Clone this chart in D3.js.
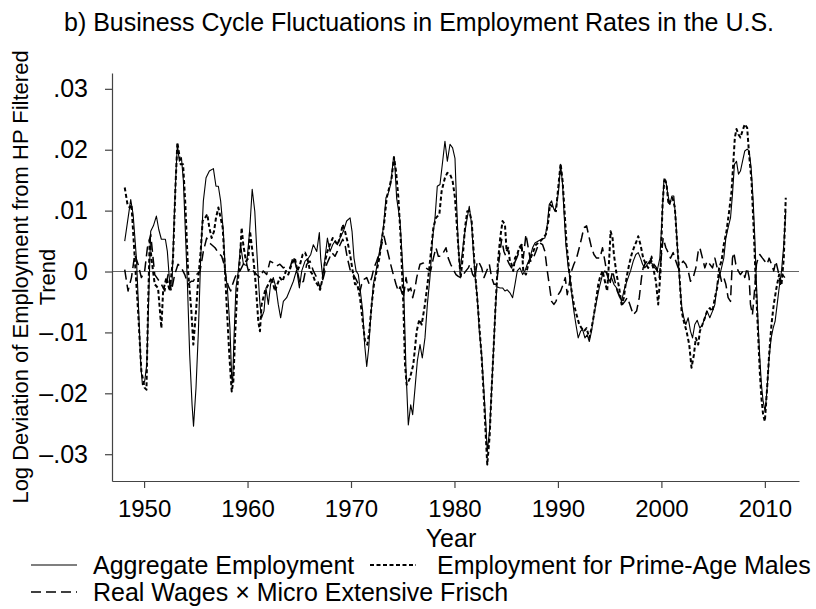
<!DOCTYPE html>
<html>
<head>
<meta charset="utf-8">
<script src="https://cdn.jsdelivr.net/npm/d3@7/dist/d3.min.js"></script>
<style>
  body { margin: 0; background: #fff; }
  svg { display: block; font-family: "Liberation Sans", Arial, sans-serif; }
</style>
</head>
<body>
<svg width="816" height="609"></svg>
<script>
// series: [year, log deviation from HP trend]
var aggregate = [
  [1948.13,.0050],[1948.71,.0118],[1948.94,.0094],[1949.26,.0022],[1949.48,-.0065],[1949.68,-.0153],[1949.84,-.0186],[1950.06,-.0180],[1950.26,-.0153],[1950.45,-.0043],[1950.64,.0066],[1950.90,.0075],[1951.19,.0091],[1951.42,.0069],[1951.67,.0053],[1952.06,.0053],[1952.25,.0033],[1952.51,-.0027],[1952.70,-.0021],[1952.90,.0083],
  [1953.09,.0165],[1953.22,.0209],[1953.41,.0181],[1953.61,.0187],[1953.80,.0149],[1953.99,.0066],[1954.19,-.0021],[1954.41,-.0137],[1954.64,-.0219],[1954.78,-.0254],[1955.02,-.0191],[1955.25,-.0098],[1955.47,.0022],[1955.73,.0116],[1955.99,.0154],[1956.31,.0165],[1956.70,.0169],[1956.95,.0140],[1957.18,.0140],[1957.40,.0116],
  [1957.66,.0066],[1957.85,.0001],[1958.05,-.0027],[1958.30,-.0093],[1958.47,-.0175],[1958.56,-.0183],[1958.69,-.0109],[1958.88,-.0027],[1959.11,.0001],[1959.33,.0044],[1959.60,.0012],[1959.90,.0010],[1960.20,.0066],[1960.45,.0135],[1960.70,.0099],[1960.88,.0039],[1961.04,-.0010],[1961.20,-.0054],[1961.36,-.0076],[1961.59,-.0065],
  [1961.78,-.0027],[1962.01,-.0054],[1962.23,-.0021],[1962.49,-.0010],[1962.75,-.0027],[1962.97,-.0054],[1963.20,-.0076],[1963.46,-.0049],[1963.78,-.0043],[1964.10,-.0030],[1964.43,-.0016],[1964.75,.0003],[1965.01,-.0027],[1965.24,.0001],[1965.56,.0017],[1965.88,.0022],[1966.11,.0028],[1966.36,.0044],[1966.69,.0033],[1966.94,.0064],
  [1967.07,.0022],[1967.27,-.0010],[1967.49,.0022],[1967.72,.0055],[1967.97,.0033],[1968.23,.0044],[1968.46,.0050],[1968.68,.0044],[1968.94,.0055],[1969.26,.0066],[1969.58,.0083],[1969.91,.0088],[1970.10,.0066],[1970.29,.0022],[1970.49,.0001],[1970.71,-.0005],[1970.87,-.0027],[1971.13,-.0065],[1971.32,-.0120],[1971.52,-.0156],
  [1971.71,-.0126],[1971.90,-.0076],[1972.16,-.0021],[1972.42,.0001],[1972.64,.0022],[1972.87,.0044],[1973.13,.0072],[1973.38,.0121],[1973.61,.0129],[1973.83,.0143],[1974.09,.0184],[1974.20,.0186],[1974.41,.0121],[1974.74,.0083],[1975.06,-.0010],[1975.32,-.0164],[1975.54,-.0252],[1975.77,-.0219],[1975.96,-.0235],[1976.19,-.0191],
  [1976.41,-.0147],[1976.67,-.0120],[1976.89,-.0142],[1977.15,-.0109],[1977.38,-.0054],[1977.63,-.0010],[1977.89,.0055],[1978.12,.0088],[1978.34,.0140],[1978.60,.0143],[1978.86,.0181],[1979.08,.0214],[1979.31,.0181],[1979.57,.0209],[1979.82,.0203],[1980.05,.0186],[1980.21,.0110],[1980.37,.0044],[1980.53,.0001],[1980.69,.0022],
  [1980.92,.0055],[1981.18,.0083],[1981.43,.0107],[1981.66,.0077],[1981.82,.0033],[1982.01,-.0010],[1982.21,-.0043],[1982.40,-.0098],[1982.63,-.0137],[1982.85,-.0197],[1983.04,-.0252],[1983.17,-.0296],[1983.40,-.0260],[1983.60,-.0190],[1983.80,-.0120],[1983.95,-.0065],[1984.10,-.0025],[1984.40,-.0027],[1984.65,-.0027],[1984.88,-.0032],
  [1985.10,-.0030],[1985.36,-.0035],[1985.62,-.0043],[1985.85,-.0021],[1986.07,.0001],[1986.33,.0006],[1986.59,-.0005],[1986.81,.0001],[1987.04,.0012],[1987.29,.0022],[1987.55,.0039],[1987.78,.0047],[1988.10,.0050],[1988.42,.0053],[1988.74,.0055],[1988.97,.0077],[1989.16,.0110],[1989.39,.0116],[1989.55,.0105],[1989.71,.0099],
  [1989.87,.0110],[1990.06,.0132],[1990.26,.0176],[1990.45,.0143],[1990.58,.0099],[1990.77,.0044],[1991.00,.0006],[1991.16,-.0010],[1991.35,-.0038],[1991.54,-.0065],[1991.74,-.0087],[1991.96,-.0109],[1992.19,-.0098],[1992.38,-.0095],[1992.61,-.0109],[1992.83,-.0104],[1993.03,-.0115],[1993.25,-.0098],[1993.48,-.0071],[1993.73,-.0049],
  [1993.99,-.0027],[1994.31,-.0005],[1994.54,.0001],[1994.76,-.0005],[1994.96,-.0016],[1995.18,-.0010],[1995.41,-.0021],[1995.67,-.0027],[1995.92,-.0038],[1996.15,-.0049],[1996.37,-.0032],[1996.57,-.0021],[1996.79,-.0010],[1997.02,.0001],[1997.28,.0017],[1997.53,.0028],[1997.76,.0031],[1997.98,.0022],[1998.18,.0012],[1998.40,.0006],
  [1998.63,.0012],[1998.89,.0017],[1999.14,.0012],[1999.37,.0006],[1999.59,.0001],[1999.85,.0022],[2000.05,.0083],[2000.24,.0149],[2000.43,.0149],[2000.62,.0127],[2000.82,.0110],[2001.01,.0124],[2001.20,.0124],[2001.40,.0083],[2001.59,.0028],[2001.78,-.0021],[2001.98,-.0060],[2002.17,-.0076],[2002.36,-.0087],[2002.59,-.0076],
  [2002.81,-.0098],[2003.01,-.0109],[2003.23,-.0087],[2003.46,-.0080],[2003.72,-.0093],[2003.97,-.0087],[2004.20,-.0076],[2004.42,-.0065],[2004.68,-.0076],[2004.94,-.0065],[2005.17,-.0054],[2005.39,-.0021],[2005.58,-.0010],[2005.81,.0006],[2006.03,.0022],[2006.23,.0055],[2006.45,.0072],[2006.68,.0088],[2006.87,.0127],[2007.06,.0176],
  [2007.26,.0181],[2007.45,.0160],[2007.64,.0165],[2007.84,.0181],[2008.06,.0198],[2008.29,.0201],[2008.48,.0198],[2008.67,.0171],[2008.87,.0116],[2009.03,.0055],[2009.19,-.0021],[2009.35,-.0087],[2009.51,-.0142],[2009.67,-.0186],[2009.83,-.0213],[2010.03,-.0230],[2010.22,-.0191],[2010.41,-.0142],[2010.61,-.0109],[2010.80,-.0093],
  [2010.99,-.0082],[2011.19,-.0054],[2011.38,-.0027],[2011.61,.0001],[2011.83,.0044],[2012.02,.0099]
]

var primeMales = [
  [1948.13,.0138],[1948.40,.0110],[1948.62,.0105],[1948.78,.0110],[1949.10,.0022],[1949.42,-.0065],[1949.74,-.0164],[1950.06,-.0191],[1950.23,-.0194],[1950.39,-.0054],[1950.55,.0055],[1950.71,.0022],[1951.03,-.0021],[1951.35,-.0027],[1951.67,-.0093],[1951.84,-.0032],[1952.16,-.0010],[1952.48,-.0032],[1952.80,.0022],[1953.03,.0138],
  [1953.22,.0212],[1953.54,.0176],[1953.77,.0176],[1953.99,.0110],[1954.25,.0001],[1954.57,-.0065],[1954.76,-.0120],[1955.02,-.0065],[1955.25,-.0010],[1955.47,.0033],[1955.66,.0083],[1955.89,.0088],[1956.11,.0094],[1956.31,.0072],[1956.53,.0055],[1956.76,.0066],[1956.95,.0088],[1957.18,.0105],[1957.40,.0088],[1957.60,.0072],
  [1957.79,.0012],[1957.98,-.0054],[1958.24,-.0137],[1958.47,-.0197],[1958.63,-.0180],[1958.79,-.0109],[1959.01,-.0027],[1959.27,.0022],[1959.43,.0072],[1959.59,.0044],[1959.85,.0017],[1960.08,.0022],[1960.24,.0066],[1960.43,.0039],[1960.62,.0012],[1960.82,-.0027],[1961.04,-.0082],[1961.20,-.0098],[1961.36,-.0054],[1961.69,-.0032],
  [1962.01,-.0021],[1962.33,-.0010],[1962.65,-.0032],[1962.88,-.0021],[1963.13,-.0010],[1963.39,-.0016],[1963.71,.0001],[1963.94,-.0005],[1964.26,.0012],[1964.58,.0022],[1964.82,.0001],[1965.08,.0012],[1965.33,.0028],[1965.56,.0031],[1965.78,.0022],[1966.04,.0001],[1966.30,-.0005],[1966.53,-.0016],[1966.75,-.0021],[1967.01,-.0030],
  [1967.27,-.0010],[1967.49,.0017],[1967.72,.0033],[1967.97,.0044],[1968.23,.0055],[1968.46,.0050],[1968.68,.0044],[1968.94,.0055],[1969.20,.0077],[1969.42,.0066],[1969.65,.0050],[1969.91,.0028],[1970.16,.0001],[1970.39,-.0021],[1970.61,-.0021],[1970.87,-.0043],[1971.13,-.0082],[1971.36,-.0115],[1971.58,-.0120],[1971.77,-.0098],
  [1972.00,-.0054],[1972.22,-.0021],[1972.48,.0001],[1972.74,.0022],[1972.96,.0050],[1973.19,.0077],[1973.45,.0121],[1973.70,.0138],[1973.93,.0154],[1974.15,.0188],[1974.35,.0165],[1974.58,.0121],[1974.80,.0055],[1975.06,-.0054],[1975.22,-.0153],[1975.38,-.0186],[1975.70,-.0175],[1976.02,-.0153],[1976.35,-.0098],[1976.60,-.0079],
  [1976.83,-.0087],[1977.15,-.0054],[1977.47,-.0010],[1977.80,.0044],[1977.96,.0072],[1978.21,.0088],[1978.54,.0094],[1978.76,.0132],[1979.08,.0154],[1979.31,.0162],[1979.57,.0160],[1979.82,.0149],[1980.05,.0121],[1980.27,.0066],[1980.47,.0017],[1980.60,-.0010],[1980.79,.0022],[1981.02,.0072],[1981.24,.0099],[1981.43,.0099],
  [1981.66,.0083],[1981.98,.0001],[1982.30,-.0065],[1982.63,-.0142],[1982.88,-.0219],[1983.04,-.0274],[1983.17,-.0317],[1983.40,-.0270],[1983.60,-.0190],[1983.80,-.0120],[1984.00,-.0045],[1984.20,.0015],[1984.42,.0055],[1984.65,.0083],[1984.88,.0077],[1985.04,.0033],[1985.20,.0039],[1985.36,.0017],[1985.52,.0012],[1985.68,.0001],
  [1985.85,.0022],[1986.07,.0028],[1986.26,.0039],[1986.49,.0044],[1986.65,.0001],[1986.91,-.0005],[1987.13,.0012],[1987.36,.0022],[1987.62,.0033],[1987.87,.0044],[1988.10,.0047],[1988.32,.0050],[1988.58,.0055],[1988.84,.0061],[1989.07,.0083],[1989.23,.0110],[1989.55,.0105],[1989.81,.0099],[1990.03,.0138],[1990.26,.0177],
  [1990.45,.0149],[1990.64,.0099],[1990.84,.0044],[1991.09,.0001],[1991.32,-.0032],[1991.54,-.0054],[1991.80,-.0071],[1992.06,-.0087],[1992.29,-.0093],[1992.51,-.0098],[1992.77,-.0093],[1993.03,-.0109],[1993.25,-.0093],[1993.48,-.0071],[1993.67,-.0049],[1993.90,-.0021],[1994.06,-.0010],[1994.31,.0001],[1994.54,-.0016],[1994.76,-.0032],
  [1994.96,.0022],[1995.09,.0066],[1995.28,.0055],[1995.41,.0028],[1995.67,-.0005],[1995.92,-.0027],[1996.15,-.0054],[1996.37,-.0043],[1996.63,-.0010],[1996.89,.0012],[1997.12,.0028],[1997.34,.0039],[1997.60,.0050],[1997.76,.0058],[1997.98,.0044],[1998.24,.0022],[1998.50,.0012],[1998.73,.0006],[1998.95,.0022],[1999.21,.0006],
  [1999.47,-.0016],[1999.69,-.0054],[1999.92,.0001],[2000.11,.0110],[2000.30,.0154],[2000.50,.0143],[2000.69,.0110],[2000.88,.0116],[2001.08,.0121],[2001.30,.0105],[2001.53,.0044],[2001.72,.0001],[2001.95,-.0065],[2002.17,-.0082],[2002.43,-.0098],[2002.69,-.0120],[2002.91,-.0158],[2003.14,-.0137],[2003.33,-.0109],[2003.56,-.0120],
  [2003.72,-.0098],[2003.97,-.0087],[2004.20,-.0076],[2004.42,-.0065],[2004.68,-.0060],[2004.94,-.0065],[2005.17,-.0043],[2005.39,-.0027],[2005.58,.0006],[2005.81,.0017],[2006.03,.0044],[2006.29,.0066],[2006.55,.0099],[2006.78,.0132],[2006.94,.0176],[2007.10,.0220],[2007.26,.0234],[2007.45,.0225],[2007.64,.0220],[2007.84,.0231],
  [2008.06,.0242],[2008.29,.0236],[2008.48,.0192],[2008.71,.0149],[2008.93,.0066],[2009.13,-.0021],[2009.35,-.0104],[2009.51,-.0164],[2009.67,-.0208],[2009.83,-.0235],[2010.00,-.0246],[2010.22,-.0191],[2010.41,-.0137],[2010.64,-.0087],[2010.86,-.0054],[2011.12,-.0027],[2011.38,-.0005],[2011.61,-.0021],[2011.83,.0022],[2012.02,.0121]
]

var wagesFrisch = [
  [1948.13,.0003],[1948.45,-.0032],[1948.78,-.0010],[1949.10,.0028],[1949.42,.0012],[1949.74,-.0010],[1950.06,.0001],[1950.32,.0039],[1950.64,.0061],[1951.03,-.0005],[1951.35,-.0013],[1951.67,-.0021],[1952.00,-.0032],[1952.32,-.0005],[1952.64,-.0032],[1952.96,-.0005],[1953.28,.0012],[1953.61,.0006],[1953.93,-.0005],[1954.25,-.0021],
  [1954.57,-.0016],[1954.76,-.0016],[1955.08,-.0005],[1955.41,.0001],[1955.73,.0033],[1956.05,.0055],[1956.31,.0047],[1956.53,.0044],[1956.86,.0039],[1957.18,.0031],[1957.50,.0025],[1957.73,.0012],[1957.92,-.0010],[1958.14,-.0024],[1958.37,-.0032],[1958.56,-.0021],[1958.79,-.0010],[1959.01,-.0002],[1959.27,.0001],[1959.59,.0012],
  [1959.85,.0017],[1960.08,.0001],[1960.30,.0006],[1960.56,.0001],[1960.88,-.0005],[1961.20,-.0010],[1961.52,.0001],[1961.85,-.0005],[1962.17,.0017],[1962.49,.0014],[1962.81,.0009],[1963.13,.0012],[1963.46,.0006],[1963.78,.0009],[1964.10,.0006],[1964.43,.0025],[1964.75,.0006],[1965.08,-.0021],[1965.40,-.0016],[1965.72,.0012],
  [1966.04,.0017],[1966.36,.0001],[1966.69,-.0010],[1967.01,-.0027],[1967.33,-.0010],[1967.65,.0012],[1967.91,.0022],[1968.16,.0031],[1968.45,.0025],[1968.68,.0033],[1968.94,.0044],[1969.20,.0053],[1969.42,.0044],[1969.65,.0022],[1969.91,.0003],[1970.23,-.0005],[1970.49,-.0013],[1970.71,-.0021],[1970.87,-.0032],[1971.03,-.0021],
  [1971.26,-.0013],[1971.52,-.0010],[1971.77,-.0021],[1972.00,-.0010],[1972.22,.0006],[1972.48,.0017],[1972.74,.0031],[1972.96,.0044],[1973.19,.0058],[1973.38,.0044],[1973.61,.0028],[1973.83,.0012],[1974.09,-.0005],[1974.35,-.0021],[1974.57,-.0032],[1974.74,-.0025],[1975.06,-.0043],[1975.32,-.0010],[1975.54,-.0032],[1975.77,-.0027],
  [1975.96,-.0043],[1976.19,-.0027],[1976.35,-.0010],[1976.67,.0012],[1976.99,.0014],[1977.25,.0006],[1977.47,.0003],[1977.70,.0001],[1977.96,.0022],[1978.21,.0039],[1978.44,.0025],[1978.66,.0025],[1978.92,.0031],[1979.18,.0039],[1979.40,.0022],[1979.63,.0012],[1979.89,.0003],[1980.15,-.0005],[1980.37,-.0008],[1980.60,-.0010],
  [1980.85,-.0005],[1981.11,.0001],[1981.34,.0006],[1981.50,.0012],[1981.76,-.0005],[1981.98,-.0010],[1982.21,.0017],[1982.40,.0014],[1982.63,.0006],[1982.85,-.0010],[1983.11,.0001],[1983.37,.0012],[1983.59,-.0010],[1983.82,-.0021],[1984.07,-.0021],[1984.33,.0022],[1984.56,.0053],[1984.78,.0033],[1985.04,.0022],[1985.30,.0012],
  [1985.52,.0006],[1985.75,.0012],[1986.01,.0022],[1986.26,.0033],[1986.49,.0044],[1986.65,.0022],[1986.91,.0061],[1987.13,.0039],[1987.36,.0017],[1987.62,.0022],[1987.87,.0033],[1988.10,.0044],[1988.26,.0047],[1988.52,.0044],[1988.74,.0033],[1988.97,.0001],[1989.16,-.0021],[1989.39,-.0049],[1989.61,-.0054],[1989.81,-.0049],
  [1990.03,-.0038],[1990.26,-.0032],[1990.51,-.0021],[1990.71,-.0010],[1990.90,-.0038],[1991.09,-.0021],[1991.32,.0001],[1991.54,.0012],[1991.80,.0022],[1992.06,.0039],[1992.29,.0055],[1992.51,.0072],[1992.77,.0075],[1993.03,.0055],[1993.25,.0039],[1993.48,.0028],[1993.73,.0022],[1994.06,.0022],[1994.31,.0039],[1994.54,.0017],
  [1994.76,-.0005],[1995.02,-.0021],[1995.28,.0001],[1995.51,-.0016],[1995.73,-.0032],[1995.99,-.0043],[1996.25,-.0054],[1996.47,-.0049],[1996.70,-.0043],[1996.95,-.0054],[1997.28,-.0071],[1997.60,-.0065],[1997.86,-.0043],[1998.08,-.0010],[1998.24,.0006],[1998.40,.0012],[1998.63,.0017],[1998.89,.0012],[1999.05,.0025],[1999.27,.0012],
  [1999.53,.0006],[1999.79,-.0010],[2000.01,.0028],[2000.17,.0055],[2000.43,.0039],[2000.66,.0031],[2000.88,.0022],[2001.14,.0031],[2001.40,.0017],[2001.62,.0006],[2001.85,.0012],[2002.11,.0017],[2002.36,.0012],[2002.59,.0001],[2002.81,-.0016],[2003.07,-.0010],[2003.33,.0006],[2003.56,.0033],[2003.72,.0039],[2003.97,.0022],
  [2004.20,.0006],[2004.42,.0017],[2004.68,.0012],[2004.94,.0006],[2005.17,.0022],[2005.39,.0006],[2005.58,.0001],[2005.81,-.0016],[2006.03,-.0010],[2006.23,-.0021],[2006.45,-.0043],[2006.68,-.0049],[2006.87,.0022],[2007.00,.0031],[2007.19,.0012],[2007.42,.0001],[2007.64,-.0005],[2007.90,.0001],[2008.06,-.0010],[2008.29,.0006],
  [2008.48,-.0010],[2008.61,-.0054],[2008.80,-.0071],[2009.00,-.0032],[2009.19,.0012],[2009.35,.0022],[2009.51,.0028],[2009.77,.0022],[2010.00,.0017],[2010.22,.0012],[2010.41,.0022],[2010.64,.0012],[2010.86,.0001],[2011.06,.0017],[2011.28,.0001],[2011.51,-.0021],[2011.70,-.0005],[2011.93,-.0010]
]

var yearTicks = [1950, 1960, 1970, 1980, 1990, 2000, 2010]
var valueTicks = [-.03, -.02, -.01, 0, .01, .02, .03]
var valueLabels = ['\u2013.03', '\u2013.02', '\u2013.01', '0', '.01', '.02', '.03']

var seriesNames = ['Aggregate Employment', 'Employment for Prime-Age Males', 'Real Wages \u00d7 Micro Extensive Frisch']

;(function (d3) {
  var svg = d3.select('svg')
  var fs = 25

  var x = d3.scaleLinear().domain([1946.9, 2013.3]).range([112, 799])
  var y = d3.scaleLinear().domain([0.0326, -0.0344]).range([73, 481])

  var styles = [
    {data: aggregate, width: 1.1, dash: null},
    {data: primeMales, width: 2, dash: '4,2.5'},
    {data: wagesFrisch, width: 1.5, dash: '10,5'}
  ]

  // zero reference line
  svg.append('line')
    .attr('x1', x.range()[0]).attr('x2', x.range()[1])
    .attr('y1', y(0)).attr('y2', y(0))
    .style('stroke', '#666')
    .style('stroke-width', 1.2)

  var ln = d3.line()
    .x(function (d) { return x(d[0]) })
    .y(function (d) { return y(d[1]) })

  svg.selectAll('path.series')
    .data(styles)
    .enter()
    .append('path')
    .attr('class', 'series')
    .attr('d', function (d) { return ln(d.data) })
    .style('fill', 'none')
    .style('stroke', '#000')
    .style('stroke-width', function (d) { return d.width })
    .style('stroke-dasharray', function (d) { return d.dash })
    .style('stroke-linejoin', 'round')

  var yAxis = d3.axisLeft(y)
    .tickValues(valueTicks)
    .tickFormat(function (d, i) { return valueLabels[i] })
    .tickSize(7)
    .tickSizeOuter(0)
    .tickPadding(17)

  var xAxis = d3.axisBottom(x)
    .tickValues(yearTicks)
    .tickFormat(d3.format('d'))
    .tickSize(7)
    .tickSizeOuter(0)
    .tickPadding(12)

  var gy = svg.append('g')
    .attr('transform', 'translate(112,0)')
    .call(yAxis)
  var gx = svg.append('g')
    .attr('transform', 'translate(0,481)')
    .call(xAxis)

  ;[gx, gy].forEach(function (g) {
    g.selectAll('path, line').style('stroke', '#444').style('stroke-width', 1.2)
    g.selectAll('text')
      .style('font-size', '24px')
      .style('font-family', '"Liberation Sans", Arial, sans-serif')
      .style('fill', '#000')
  })
  gy.selectAll('text').style('font-size', '25px')

  svg.append('text')
    .attr('x', 419).attr('y', 31)
    .attr('text-anchor', 'middle')
    .style('font-size', fs + 'px')
    .text('b) Business Cycle Fluctuations in Employment Rates in the U.S.')

  var yt = svg.append('text')
    .attr('transform', 'translate(28,277) rotate(-90)')
    .attr('text-anchor', 'middle')
    .style('font-size', '22px')
  yt.append('tspan').attr('x', 0).attr('dy', 0).text('Log Deviation of Employment from HP Filtered')
  yt.append('tspan').attr('x', 0).attr('dy', 27).text('Trend')

  svg.append('text')
    .attr('x', 451).attr('y', 547)
    .attr('text-anchor', 'middle')
    .style('font-size', fs + 'px')
    .text('Year')

  // legend
  var legend = [
    {x: 31, y: 565, style: styles[0], name: seriesNames[0]},
    {x: 370, y: 565, style: styles[1], name: seriesNames[1]},
    {x: 31, y: 592, style: styles[2], name: seriesNames[2]}
  ]
  var lg = svg.selectAll('g.key')
    .data(legend)
    .enter()
    .append('g')
    .attr('class', 'key')
    .attr('transform', function (d) { return 'translate(' + d.x + ',' + d.y + ')' })
  lg.append('line')
    .attr('x1', 0).attr('x2', 46)
    .style('stroke', '#000')
    .style('stroke-width', function (d) { return d.style.width })
    .style('stroke-dasharray', function (d) { return d.style.dash })
  lg.append('text')
    .attr('x', function (d) { return d.x === 31 ? 62 : 67 })
    .attr('y', 9)
    .style('font-size', fs + 'px')
    .text(function (d) { return d.name })
})(window.d3)
</script>
</body>
</html>
